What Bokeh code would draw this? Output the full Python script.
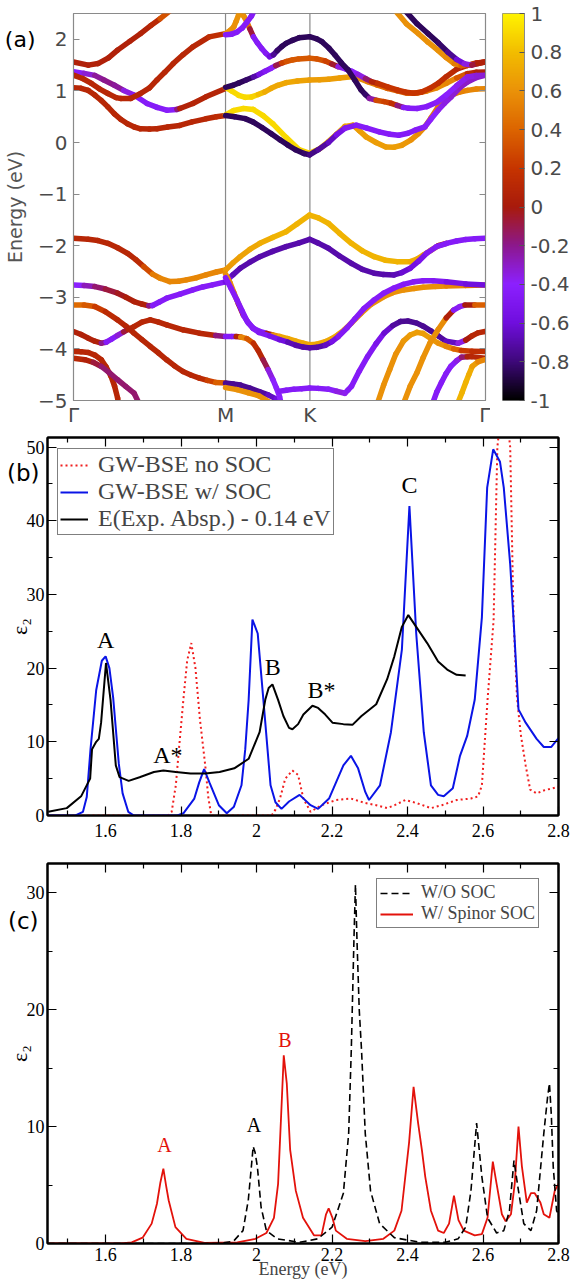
import numpy as np
from bokeh.plotting import figure
from bokeh.layouts import column, row
from bokeh.models import (ColumnDataSource, LinearColorMapper, FixedTicker, LinearAxis,
                          Span, Label, Legend, LegendItem, Range1d)
from bokeh.transform import linear_cmap
from bokeh.embed import file_html
from bokeh.resources import INLINE

# ---------------------------------------------------------------------------
# (a) spin-projected band structure along Γ–M–K–Γ  (path length ΓM = 1)
#     each band: (k, E [eV], <S_z>)
# ---------------------------------------------------------------------------
K_TICKS = [0.0, 1.0, 1.555, 2.709]
K_LABELS = ["Γ", "M", "K", "Γ"]
E_TICKS = [-5, -4, -3, -2, -1, 0, 1, 2]
SZ_TICKS = [1.0, 0.8, 0.6, 0.4, 0.2, 0.0, -0.2, -0.4, -0.6, -0.8, -1.0]
SZ_LABELS = ["1", "0.8", "0.6", "0.4", "0.2", "0", "-0.2", "-0.4", "-0.6", "-0.8", "-1"]

# conduction bands
cb_gm_1 = [(0.0, 1.56, .05), (0.097, 1.50, .05), (0.161, 1.53, .05), (0.23, 1.64, .05), (0.29, 1.79, .05),
           (0.37, 1.96, .05), (0.441, 2.11, .05), (0.51, 2.27, .08), (0.57, 2.40, .15), (0.634, 2.55, .5)]
cb_gm_2 = [(0.0, 1.37, -.45), (0.07, 1.34, -.4), (0.14, 1.30, -.25), (0.2, 1.21, -.2), (0.269, 1.11, -.2),
           (0.33, 1.01, -.25), (0.398, 0.92, -.45), (0.484, 0.756, -.45), (0.55, 0.68, -.45),
           (0.613, 0.627, -.45), (0.68, 0.64, -.4), (0.70, 0.66, .05), (0.785, 0.756, .08),
           (0.871, 0.885, .08), (1.0, 1.046, .08)]
cb_gm_3 = [(0.0, 1.305, .1), (0.06, 1.24, .1), (0.118, 1.144, .1), (0.17, 1.04, .1), (0.226, 0.95, .1),
           (0.28, 0.87, .1), (0.312, 0.853, .1), (0.376, 0.853, .1), (0.441, 0.95, .1), (0.50, 1.06, .1),
           (0.548, 1.208, .1), (0.60, 1.36, .1), (0.656, 1.53, .1), (0.72, 1.70, .1), (0.785, 1.853, .1),
           (0.892, 2.046, .1), (1.0, 2.11, .2)]
cb_gm_4 = [(0.0, 1.06, .1), (0.05, 1.05, .1), (0.097, 1.008, .1), (0.14, 0.92, .1), (0.183, 0.814, .1),
           (0.226, 0.69, .1), (0.269, 0.556, .1), (0.31, 0.45, .1), (0.355, 0.363, .1), (0.40, 0.30, .1),
           (0.441, 0.266, .1), (0.50, 0.26, .1), (0.548, 0.266, .1), (0.62, 0.30, .1), (0.699, 0.33, .1),
           (0.78, 0.40, .1), (0.871, 0.459, .1), (0.94, 0.50, .12), (1.0, 0.524, .15)]
cb_mk_1 = [(1.0, 0.534, .9), (1.054, 0.62, .9), (1.118, 0.66, .9), (1.183, 0.64, .9), (1.247, 0.52, .9),
           (1.312, 0.36, .9), (1.398, 0.10, .9), (1.484, -0.14, .9), (1.553, -0.21, .88), (1.62, -0.12, .8),
           (1.677, 0.018, .75), (1.73, 0.16, .7), (1.785, 0.31, .7), (1.839, 0.335, .65), (1.88, 0.23, .65),
           (1.925, 0.109, .65), (1.99, 0.0, .65), (2.054, -0.085, .65), (2.11, -0.09, .65),
           (2.161, -0.053, .65), (2.22, 0.05, .6), (2.269, 0.173, .6), (2.311, 0.302, .55), (2.35, 0.47, .5),
           (2.398, 0.69, .5), (2.44, 0.82, .5), (2.484, 0.915, .5), (2.54, 0.98, .5), (2.591, 1.01, .55),
           (2.65, 1.035, .55), (2.706, 1.044, .55)]
cb_mk_2 = [(1.0, 0.524, -.85), (1.06, 0.50, -.85), (1.129, 0.463, -.85), (1.18, 0.40, -.85), (1.24, 0.29, -.85),
           (1.301, 0.17, -.85), (1.36, 0.05, -.85), (1.41, -0.05, -.85), (1.46, -0.14, -.85),
           (1.516, -0.214, -.85), (1.553, -0.24, -.8), (1.61, -0.14, -.75), (1.677, 0.0, -.7),
           (1.73, 0.15, -.6), (1.785, 0.276, -.5), (1.86, 0.335, -.45), (1.93, 0.28, -.45),
           (2.011, 0.206, -.45), (2.08, 0.16, -.45), (2.14, 0.141, -.45), (2.2, 0.18, -.45),
           (2.247, 0.238, -.45), (2.311, 0.302, -.45), (2.35, 0.45, -.4), (2.398, 0.625, -.4),
           (2.44, 0.76, -.35), (2.484, 0.883, -.35), (2.54, 1.06, -.3), (2.591, 1.17, -.3),
           (2.65, 1.26, -.3), (2.706, 1.30, -.3)]
cb_mk_3 = [(1.0, 1.07, .9), (1.04, 1.0, .9), (1.086, 0.915, .9), (1.13, 0.875, .9), (1.172, 0.883, .9),
           (1.215, 0.93, .85), (1.258, 0.98, .75), (1.30, 1.05, .7), (1.344, 1.109, .7), (1.40, 1.16, .7),
           (1.473, 1.19, .7), (1.553, 1.211, .65), (1.62, 1.215, .65), (1.677, 1.224, .65), (1.75, 1.25, .65),
           (1.828, 1.276, .65), (1.88, 1.24, .6), (1.935, 1.179, .55), (2.0, 1.11, .45), (2.065, 1.05, .4),
           (2.13, 1.0, .35), (2.194, 0.954, .35), (2.26, 0.96, .4), (2.323, 0.999, .5), (2.39, 1.06, .55),
           (2.452, 1.147, .6), (2.52, 1.25, .5), (2.591, 1.334, .2), (2.65, 1.36, .05), (2.706, 1.366, .05)]
cb_mk_4 = [(1.0, 1.07, -.85), (1.05, 1.11, -.85), (1.086, 1.15, -.85), (1.135, 1.21, -.85), (1.183, 1.27, -.8),
           (1.22, 1.32, -.6), (1.26, 1.38, -.5), (1.30, 1.44, -.45), (1.33, 1.49, -.4), (1.37, 1.54, .2),
           (1.40, 1.57, .3), (1.44, 1.60, .35), (1.48, 1.62, .35), (1.553, 1.635, .35), (1.60, 1.62, .35),
           (1.656, 1.58, .3), (1.70, 1.52, .2), (1.74, 1.47, -.3), (1.785, 1.43, -.4), (1.83, 1.38, -.4),
           (1.871, 1.32, -.4), (1.92, 1.24, -.3), (1.96, 1.18, 0.0), (2.0, 1.147, .15), (2.065, 1.08, .2),
           (2.129, 1.018, .2), (2.18, 0.98, .2), (2.237, 0.954, .2), (2.29, 0.98, .2), (2.344, 1.05, .2),
           (2.40, 1.15, .15), (2.452, 1.276, .15), (2.52, 1.42, .1), (2.591, 1.495, .1), (2.65, 1.54, .05),
           (2.706, 1.56, .05)]
cb_mk_5 = [(1.097, 2.60, .6), (1.12, 2.45, .6), (1.14, 2.34, .6), (1.16, 2.2, .3), (1.183, 2.05, -.45),
           (1.21, 1.93, -.45), (1.237, 1.824, -.45), (1.265, 1.73, -.45), (1.29, 1.663, -.5),
           (1.315, 1.70, -.7), (1.34, 1.78, -.8), (1.37, 1.86, -.85), (1.398, 1.921, -.85), (1.44, 1.98, -.85),
           (1.484, 2.031, -.85), (1.553, 2.05, -.85), (1.6, 2.01, -.85), (1.634, 1.953, -.85),
           (1.68, 1.83, -.85), (1.72, 1.695, -.85), (1.76, 1.55, -.85), (1.806, 1.405, -.85),
           (1.85, 1.21, -.85), (1.892, 1.018, -.85), (1.92, 0.93, -.85), (1.946, 0.857, -.8),
           (1.99, 0.82, .3), (2.043, 0.792, .3), (2.09, 0.76, .2), (2.129, 0.72, .1), (2.17, 0.68, -.45),
           (2.204, 0.663, -.45), (2.26, 0.66, -.45), (2.323, 0.695, -.45), (2.39, 0.78, -.45),
           (2.452, 0.921, -.4), (2.52, 1.10, -.4), (2.591, 1.27, -.35), (2.65, 1.30, -.35), (2.706, 1.305, -.3)]
cb_mk_6 = [(1.0, 2.11, .6), (1.03, 2.17, .6), (1.054, 2.24, .6), (1.07, 2.35, .6), (1.086, 2.47, .6),
           (1.097, 2.56, .6)]
cb_mk_7 = [(1.0, 2.09, -.45), (1.04, 2.10, -.45), (1.075, 2.14, -.45), (1.11, 2.22, -.45), (1.14, 2.33, -.45),
           (1.17, 2.45, -.45), (1.19, 2.56, -.45)]
cb_kg_8 = [(2.118, 2.55, .6), (2.19, 2.30, .6), (2.269, 2.108, .6), (2.33, 1.95, .6), (2.398, 1.785, .6),
           (2.45, 1.65, .6), (2.505, 1.527, .55), (2.55, 1.49, .45), (2.591, 1.495, .3), (2.65, 1.53, .15),
           (2.706, 1.56, .1)]
cb_kg_9 = [(2.183, 2.55, -.85), (2.26, 2.30, -.85), (2.333, 2.108, -.85), (2.40, 1.93, -.85),
           (2.462, 1.753, -.8), (2.52, 1.61, -.7), (2.57, 1.527, -.5), (2.62, 1.50, -.2), (2.66, 1.53, .05),
           (2.706, 1.56, .05)]

# valence bands
vb_gm_1 = [(0.0, -1.857, .1), (0.097, -1.876, .1), (0.16, -1.90, .1), (0.226, -1.954, .1), (0.29, -2.04, .1),
           (0.355, -2.147, .1), (0.41, -2.27, .1), (0.462, -2.405, .15), (0.52, -2.55, .45),
           (0.570, -2.631, .55), (0.634, -2.696, .55), (0.69, -2.69, .55), (0.742, -2.663, .55),
           (0.81, -2.62, .55), (0.871, -2.567, .55), (0.94, -2.51, .55), (1.0, -2.47, .55)]
vb_mk_1 = [(1.0, -2.47, .6), (1.05, -2.33, .65), (1.097, -2.213, .65), (1.16, -2.07, .7), (1.226, -1.954, .7),
           (1.31, -1.84, .75), (1.398, -1.728, .75), (1.47, -1.58, .75), (1.553, -1.406, .75),
           (1.61, -1.46, .75), (1.677, -1.567, .75), (1.75, -1.76, .75), (1.828, -1.954, .75),
           (1.9, -2.1, .75), (1.978, -2.213, .75), (2.05, -2.28, .75), (2.129, -2.309, .75),
           (2.215, -2.309, .75), (2.26, -2.26, .7), (2.301, -2.18, .7), (2.35, -2.09, .6), (2.40, -2.0, .5),
           (2.452, -1.954, -.45), (2.52, -1.91, -.45), (2.58, -1.88, -.45), (2.64, -1.865, -.45),
           (2.706, -1.857, -.45)]
vb_gm_2 = [(0.0, -2.76, -.45), (0.07, -2.77, -.35), (0.14, -2.792, -.2), (0.21, -2.84, -.1), (0.29, -2.921, -.05),
           (0.345, -3.0, 0.0), (0.398, -3.082, .05), (0.45, -3.13, .05), (0.495, -3.166, .05),
           (0.52, -3.16, -.45), (0.565, -3.09, -.45), (0.613, -3.018, -.45), (0.70, -2.94, -.45),
           (0.785, -2.857, -.45), (0.85, -2.80, -.45), (0.914, -2.76, -.45), (1.0, -2.70, -.45)]
vb_mk_2 = [(1.0, -2.70, -.5), (1.05, -2.56, -.65), (1.097, -2.437, -.7), (1.16, -2.32, -.7), (1.226, -2.213, -.7),
           (1.31, -2.11, -.7), (1.398, -2.019, -.7), (1.48, -1.95, -.7), (1.553, -1.876, -.7),
           (1.61, -1.95, -.7), (1.677, -2.05, -.7), (1.75, -2.20, -.7), (1.828, -2.341, -.7),
           (1.9, -2.46, -.7), (1.978, -2.534, -.7), (2.04, -2.56, -.7), (2.108, -2.567, -.7),
           (2.16, -2.52, -.65), (2.215, -2.437, -.6), (2.27, -2.30, -.55), (2.323, -2.147, -.5),
           (2.387, -2.019, -.45), (2.452, -1.96, -.45)]
vb_gm_3 = [(0.0, -3.147, .45), (0.07, -3.15, .4), (0.14, -3.179, .3), (0.21, -3.28, .15), (0.29, -3.437, .1),
           (0.345, -3.56, .1), (0.398, -3.695, .1), (0.45, -3.82, .1), (0.505, -3.953, .1), (0.56, -4.08, .1),
           (0.613, -4.211, .1), (0.665, -4.33, .1), (0.72, -4.437, .1), (0.775, -4.51, .1),
           (0.828, -4.566, .1), (0.88, -4.61, .15), (0.935, -4.65, .35), (1.0, -4.662, .4)]
vb_mk_3 = [(1.0, -4.662, -.75), (1.05, -4.68, -.75), (1.097, -4.70, -.75), (1.16, -4.76, -.75),
           (1.226, -4.83, -.75), (1.28, -4.89, -.7), (1.333, -4.97, -.6), (1.35, -5.05, -.6)]
vb_mk_3b = [(1.0, -4.75, .6), (1.075, -4.79, .6), (1.15, -4.85, .6), (1.22, -4.91, .6), (1.30, -5.05, .6)]
vb_gm_4 = [(0.0, -3.663, .05), (0.05, -3.72, .05), (0.097, -3.792, .05), (0.14, -3.85, .05), (0.183, -3.889, .05),
           (0.215, -3.87, -.45), (0.25, -3.81, -.45), (0.29, -3.74, -.45), (0.33, -3.67, -.2),
           (0.36, -3.62, .05), (0.398, -3.57, .1), (0.45, -3.48, .1), (0.505, -3.437, .1),
           (0.56, -3.48, .1), (0.613, -3.534, .1), (0.72, -3.63, .1), (0.828, -3.695, .1),
           (0.935, -3.74, .1), (1.0, -3.76, -.45)]
vb_mk_4 = [(1.0, -3.76, -.45), (1.04, -3.76, -.45), (1.07, -3.76, -.45), (1.10, -3.77, .6), (1.14, -3.80, .5),
           (1.183, -3.889, .2), (1.215, -4.03, .1), (1.247, -4.211, .1), (1.28, -4.40, -.3),
           (1.312, -4.598, -.4), (1.335, -4.76, -.4), (1.355, -4.92, -.4), (1.365, -5.05, -.4)]
vb_mk_5 = [(1.0, -2.55, .6), (1.03, -2.72, .6), (1.054, -2.90, .6), (1.085, -3.13, .4), (1.118, -3.35, -.45),
           (1.15, -3.50, -.45), (1.183, -3.60, -.45), (1.225, -3.66, -.45), (1.27, -3.70, -.45),
           (1.31, -3.73, .5), (1.355, -3.76, .7), (1.41, -3.80, .7), (1.462, -3.85, .7), (1.51, -3.89, .7),
           (1.553, -3.92, .7), (1.60, -3.91, .7), (1.656, -3.86, .7), (1.70, -3.80, .7), (1.742, -3.72, .7),
           (1.785, -3.62, .65), (1.828, -3.50, .6), (1.892, -3.309, .6), (1.96, -3.13, .6),
           (2.043, -2.986, .6), (2.1, -2.91, .6), (2.172, -2.857, .6), (2.24, -2.83, .6), (2.301, -2.805, .6),
           (2.38, -2.79, .6), (2.452, -2.78, .6), (2.58, -2.77, .5), (2.706, -2.76, .4)]
vb_mk_6 = [(1.0, -2.62, -.45), (1.035, -2.82, -.45), (1.075, -3.05, -.45), (1.11, -3.27, -.45),
           (1.14, -3.45, -.45), (1.18, -3.60, -.45), (1.22, -3.68, -.45), (1.29, -3.75, -.5),
           (1.355, -3.82, -.55), (1.41, -3.87, -.65), (1.462, -3.93, -.7), (1.51, -3.965, -.7),
           (1.553, -3.98, -.7), (1.60, -3.97, -.7), (1.656, -3.93, -.7), (1.70, -3.86, -.6),
           (1.742, -3.76, -.5), (1.80, -3.59, -.45), (1.85, -3.42, -.45), (1.91, -3.22, -.45),
           (1.978, -3.05, -.45), (2.04, -2.92, -.45), (2.108, -2.82, -.45), (2.17, -2.75, -.45),
           (2.237, -2.70, -.45), (2.30, -2.68, -.45), (2.366, -2.68, -.45), (2.452, -2.70, -.5),
           (2.58, -2.74, -.6), (2.706, -2.76, -.6)]
vb_kg_8 = [(1.355, -4.82, -.45), (1.40, -4.80, -.45), (1.45, -4.78, -.45), (1.50, -4.77, -.45),
           (1.553, -4.76, -.45), (1.61, -4.765, -.45), (1.677, -4.78, -.45), (1.73, -4.82, -.4),
           (1.785, -4.86, -.3), (1.805, -4.80, -.45), (1.828, -4.727, -.45), (1.88, -4.43, -.45),
           (1.935, -4.147, -.45), (1.99, -3.90, -.5), (2.043, -3.695, -.55), (2.10, -3.55, -.7),
           (2.151, -3.469, -.75), (2.2, -3.46, -.75), (2.258, -3.50, -.75), (2.30, -3.56, -.75),
           (2.35, -3.65, -.75), (2.40, -3.75, -.75), (2.45, -3.85, -.7), (2.53, -3.89, -.6),
           (2.58, -3.83, -.1), (2.62, -3.75, .1), (2.66, -3.69, .1), (2.706, -3.663, .1)]
vb_kg_9 = [(2.0, -5.05, .6), (2.04, -4.7, .6), (2.08, -4.4, .6), (2.12, -4.1, .6), (2.17, -3.85, .6),
           (2.215, -3.73, .65), (2.26, -3.68, .65), (2.30, -3.70, .65), (2.35, -3.80, .65), (2.40, -3.89, .6),
           (2.45, -3.95, .6), (2.50, -4.00, .5), (2.55, -4.03, .3), (2.62, -4.045, .15), (2.706, -4.05, .15)]
vb_kg_10 = [(2.172, -5.05, .6), (2.215, -4.72, .6), (2.258, -4.469, .6), (2.30, -4.17, .6), (2.344, -3.889, .6),
            (2.40, -3.62, .6), (2.452, -3.40, .55), (2.50, -3.25, -.45), (2.54, -3.18, -.45),
            (2.575, -3.15, -.3), (2.64, -3.147, .3), (2.706, -3.147, .45)]
vb_kg_11 = [(2.363, -5.05, -.45), (2.39, -4.83, -.45), (2.42, -4.65, -.45), (2.45, -4.48, -.45),
            (2.481, -4.34, -.45), (2.52, -4.23, -.4), (2.552, -4.16, -.3), (2.59, -4.15, 0.0),
            (2.62, -4.15, .1), (2.706, -4.18, .1)]
vb_kg_12 = [(2.528, -5.05, .75), (2.555, -4.85, .75), (2.58, -4.65, .75), (2.60, -4.50, .75),
            (2.623, -4.34, .7), (2.66, -4.25, .6), (2.706, -4.21, .5)]
vb_gm_13 = [(0.0, -4.05, .1), (0.05, -4.055, .1), (0.097, -4.07, .1), (0.14, -4.12, .1), (0.183, -4.211, .1),
            (0.215, -4.35, .1), (0.247, -4.533, .1), (0.27, -4.72, .1), (0.29, -4.95, .1), (0.296, -5.05, .1)]
vb_gm_14 = [(0.0, -4.18, .1), (0.075, -4.21, .1), (0.13, -4.26, 0.0), (0.183, -4.34, -.15), (0.235, -4.46, -.15),
            (0.29, -4.598, -.15), (0.345, -4.73, -.15), (0.398, -4.856, -.15), (0.43, -5.05, -.15)]

BANDS = [cb_gm_1, cb_gm_2, cb_gm_3, cb_gm_4, cb_mk_1, cb_mk_2, cb_mk_3, cb_mk_4, cb_mk_5, cb_mk_6,
         cb_mk_7, cb_kg_8, cb_kg_9,
         vb_gm_1, vb_mk_1, vb_gm_2, vb_mk_2, vb_gm_3, vb_mk_3, vb_mk_3b, vb_gm_4, vb_mk_4, vb_mk_5,
         vb_mk_6, vb_kg_8, vb_kg_9, vb_kg_10, vb_kg_11, vb_kg_12, vb_gm_13, vb_gm_14]

# ---------------------------------------------------------------------------
# (b) ε2 spectra: GW-BSE without / with SOC and shifted experiment
# ---------------------------------------------------------------------------
NOSOC_B_X = [1.446, 1.765, 1.775, 1.786, 1.796, 1.806, 1.816, 1.827, 1.838, 1.85, 1.864, 1.872, 1.88, 2.04, 2.05,
             2.062, 2.076, 2.095, 2.11, 2.124, 2.143, 2.172, 2.211, 2.25, 2.288, 2.317, 2.346, 2.366, 2.394,
             2.423, 2.462, 2.491, 2.53, 2.568, 2.587, 2.597, 2.612, 2.628, 2.638, 2.655, 2.672, 2.681, 2.69,
             2.70, 2.713, 2.725, 2.742, 2.761, 2.8]
NOSOC_B_Y = [0, 0, 0.5, 4.1, 10, 15.7, 21, 23.4, 20, 13, 6.8, 2.5, 0, 0, 0.8, 2.3, 5.0, 6.1, 5.5, 2.3, 0.5, 1.4,
             2.1, 2.3, 1.7, 1.4, 1.0, 1.4, 2.1, 1.7, 1.0, 1.4, 2.1, 2.3, 2.6, 4.1, 15.7, 26.5, 50, 58, 50,
             26.5, 16, 11, 6.8, 3.5, 3.0, 3.4, 3.9]
SOC_B_X = [1.446, 1.52, 1.54, 1.55, 1.56, 1.575, 1.59, 1.60, 1.61, 1.62, 1.635, 1.645, 1.66, 1.675, 1.79, 1.806,
           1.835, 1.848, 1.861, 1.875, 1.90, 1.921, 1.94, 1.96, 1.97, 1.979, 1.989, 2.003, 2.018, 2.037, 2.05,
           2.066, 2.086, 2.114, 2.143, 2.163, 2.192, 2.23, 2.25, 2.269, 2.288, 2.298, 2.327, 2.356, 2.385,
           2.405, 2.423, 2.443, 2.462, 2.481, 2.496, 2.52, 2.539, 2.558, 2.578, 2.597, 2.611, 2.627, 2.645,
           2.655, 2.672, 2.681, 2.694, 2.713, 2.742, 2.761, 2.781, 2.8]
SOC_B_Y = [0, 0, 0.5, 2.5, 9, 17, 21, 21.6, 20, 16, 7, 3, 0.5, 0, 0, 0.3, 2.3, 4.5, 6.3, 4.5, 1.4, 0.3, 1.2, 4.1,
           9, 15.7, 26.6, 24.7, 15.7, 4.1, 1.8, 0.9, 1.9, 2.8, 1.4, 0.9, 2.3, 6.8, 8.1, 6.4, 3.2, 2.1, 4.1,
           11.3, 22.5, 42.0, 24.7, 11.3, 4.1, 2.8, 2.6, 3.7, 8.1, 10.8, 15.7, 26.9, 44.5, 49.7, 48, 44.5,
           34.1, 26.5, 14.4, 12.6, 10.4, 9.3, 9.3, 10.5]
EXP_X = [1.448, 1.497, 1.535, 1.559, 1.564, 1.575, 1.582, 1.588, 1.601, 1.613, 1.627, 1.637, 1.661, 1.69, 1.728,
         1.753, 1.786, 1.825, 1.864, 1.902, 1.941, 1.979, 2.008, 2.023, 2.032, 2.042, 2.057, 2.071, 2.086, 2.095,
         2.11, 2.124, 2.148, 2.163, 2.182, 2.201, 2.23, 2.254, 2.278, 2.317, 2.346, 2.365, 2.385, 2.402, 2.423,
         2.452, 2.481, 2.505, 2.53, 2.554]
EXP_Y = [0.5, 1.0, 2.6, 5.0, 9.0, 10.0, 10.4, 12.6, 20.7, 15.7, 6.8, 5.2, 4.7, 5.2, 5.9, 6.1, 5.9, 5.7, 5.7, 5.9,
         6.4, 7.7, 11.3, 15.7, 17.3, 17.8, 15.7, 13.5, 11.9, 11.7, 12.4, 13.7, 14.9, 14.6, 13.7, 12.6, 12.4,
         12.3, 13.5, 15.1, 18.5, 21.6, 25.6, 27.2, 25.6, 23.4, 20.9, 19.8, 19.1, 19.0]
PEAKS_B = [("A", 1.600, 22.0), ("A*", 1.765, 6.4), ("B", 2.043, 18.4), ("B*", 2.172, 15.3), ("C", 2.405, 43.1)]

# ---------------------------------------------------------------------------
# (c) ε2 without SOC and with spinor SOC
# ---------------------------------------------------------------------------
SPINOR_X = [1.446, 1.64, 1.669, 1.698, 1.722, 1.736, 1.745, 1.753, 1.76, 1.767, 1.785, 1.814, 1.862, 1.949,
            1.997, 2.026, 2.046, 2.057, 2.065, 2.072, 2.08, 2.089, 2.104, 2.123, 2.152, 2.172, 2.184, 2.191,
            2.201, 2.21, 2.239, 2.288, 2.336, 2.365, 2.384, 2.404, 2.416, 2.428, 2.438, 2.447, 2.462, 2.481,
            2.496, 2.51, 2.523, 2.535, 2.549, 2.578, 2.597, 2.612, 2.626, 2.636, 2.65, 2.66, 2.674, 2.684,
            2.694, 2.703, 2.716, 2.727, 2.737, 2.752, 2.761, 2.776, 2.79, 2.8]
SPINOR_Y = [0, 0, 0.1, 0.5, 1.7, 3.4, 5.2, 6.4, 5.0, 3.7, 1.4, 0.4, 0.05, 0.1, 0.4, 0.9, 2.2, 5.1, 10.9, 16.1,
            13.7, 8.0, 4.5, 2.2, 0.7, 0.7, 2.5, 3.0, 2.2, 1.1, 0.4, 0.2, 0.4, 1.1, 2.8, 8.6, 13.4, 10.3, 8.0,
            5.7, 2.8, 1.1, 0.9, 1.7, 4.1, 2.0, 1.1, 0.7, 0.8, 2.2, 7.0, 5.1, 2.5, 1.9, 2.5, 5.1, 10.0, 6.6,
            3.5, 4.3, 4.3, 3.5, 2.5, 2.2, 4.5, 5.1]
NOSOC_C_X = [1.446, 1.90, 1.939, 1.964, 1.978, 1.986, 1.991, 1.996, 2.002, 2.012, 2.026, 2.055, 2.114, 2.162, 2.2,
             2.23, 2.244, 2.251, 2.258, 2.262, 2.266, 2.272, 2.278, 2.288, 2.302, 2.326, 2.365, 2.433, 2.50,
             2.534, 2.554, 2.568, 2.577, 2.583, 2.59, 2.597, 2.612, 2.636, 2.655, 2.67, 2.682, 2.694, 2.708,
             2.727, 2.742, 2.761, 2.771, 2.776, 2.781, 2.786, 2.795, 2.8]
NOSOC_C_Y = [0, 0, 0.2, 1.1, 3.7, 6.5, 8.3, 7.8, 6.6, 3.1, 1.1, 0.4, 0.1, 0.4, 1.4, 4.3, 9.4, 16.6, 26, 30.7, 26,
             20, 16.6, 9.4, 4.5, 1.7, 0.5, 0.1, 0.1, 0.4, 1.4, 4.5, 8, 10.3, 8, 5.7, 2.2, 0.9, 1.1, 2.8, 7.1,
             4.5, 1.7, 1.1, 2.8, 9.4, 12.5, 13.7, 11, 6.6, 2.8, 2.5]
PEAKS_C = [("A", 1.756, 7.5, "#e3120b"), ("A", 1.993, 9.2, "black"), ("B", 2.075, 16.5, "#e3120b")]

X_TICKS = [1.6, 1.8, 2.0, 2.2, 2.4, 2.6, 2.8]
X_TICK_LABELS = ["1.6", "1.8", "2", "2.2", "2.4", "2.6", "2.8"]
X_MINOR = [1.5, 1.7, 1.9, 2.1, 2.3, 2.5, 2.7]

# ---------------------------------------------------------------------------
# colour scale for <S_z>
# ---------------------------------------------------------------------------
SZ_STOPS = [-1.0, -0.8, -0.6, -0.4, -0.2, 0.0, 0.2, 0.4, 0.6, 0.8, 1.0]
SZ_RGB = [(0, 0, 0), (62, 8, 122), (112, 14, 222), (140, 32, 255), (140, 24, 140), (168, 26, 12),
          (198, 52, 0), (220, 100, 0), (234, 145, 8), (242, 188, 0), (255, 242, 0)]


def build_palette(stops, rgb, n=256):
    t = np.linspace(-1, 1, n)
    arr = np.array(rgb, dtype=float)
    chans = [np.interp(t, stops, arr[:, i]) for i in range(3)]
    return ["#%02x%02x%02x" % (int(round(r)), int(round(g)), int(round(b))) for r, g, b in zip(*chans)]


PALETTE = build_palette(SZ_STOPS, SZ_RGB)
SANS = "DejaVu Sans"
SERIF = "Liberation Serif"
GREY = "#4a4a4a"


def band_source(bands):
    xs, ys, sz = [], [], []
    for band in bands:
        for (k0, e0, s0), (k1, e1, s1) in zip(band[:-1], band[1:]):
            xs.append([k0, k1])
            ys.append([e0, e1])
            sz.append(0.5 * (s0 + s1))
    return ColumnDataSource(dict(xs=xs, ys=ys, sz=sz))


def mirror_axis(ticker):
    """Tick marks only (no labels) for the top / right frame edges."""
    ax = LinearAxis(ticker=ticker)
    ax.major_label_text_color = None
    ax.major_label_text_font_size = "1px"
    ax.major_label_standoff = 0
    return ax


def label_axis(tick, text, font_size, standoff, axis_label, label_font, label_size, label_standoff,
               label_color="black"):
    """Outer left axis that carries the panel tag and the axis title."""
    ax = LinearAxis(ticker=FixedTicker(ticks=[tick]))
    ax.major_label_overrides = {tick: text}
    ax.major_label_text_font = SANS
    ax.major_label_text_font_size = font_size
    ax.major_label_text_color = "black"
    ax.major_label_standoff = standoff
    ax.major_tick_in = 0
    ax.major_tick_out = 0
    ax.minor_tick_in = 0
    ax.minor_tick_out = 0
    ax.axis_line_color = None
    ax.axis_label = axis_label
    ax.axis_label_text_font = label_font
    ax.axis_label_text_font_size = label_size
    ax.axis_label_text_font_style = "normal"
    ax.axis_label_text_color = label_color
    ax.axis_label_standoff = label_standoff
    return ax


# ---------------- panel (a) ----------------
pa = figure(width=490, height=430, x_range=Range1d(0, 2.71), y_range=Range1d(-5, 2.5),
            output_backend="svg", toolbar_location=None,
            min_border_left=65, min_border_right=5, min_border_top=13, min_border_bottom=30)
pa.grid.visible = False
pa.outline_line_color = "#8a8a8a"
pa.outline_line_width = 1.2
for loc in K_TICKS[1:3]:
    pa.add_layout(Span(location=loc, dimension="height", line_color="#8a8a8a", line_width=1.2,
                       level="underlay"))
pa.multi_line(xs="xs", ys="ys", source=band_source(BANDS),
              line_color=linear_cmap("sz", PALETTE, -1, 1), line_width=5.5, line_cap="round")

pa.add_layout(mirror_axis(FixedTicker(ticks=E_TICKS)), "right")
for ax in pa.yaxis:
    ax.ticker = FixedTicker(ticks=E_TICKS)
    ax.major_tick_in = 6
    ax.major_tick_out = 0
    ax.minor_tick_in = 0
    ax.minor_tick_out = 0
    ax.major_tick_line_color = "#8a8a8a"
    ax.axis_line_color = "#8a8a8a"
pa.left[0].major_label_text_font = SANS
pa.left[0].major_label_text_font_size = "20px"
pa.left[0].major_label_text_color = GREY
pa.left[0].major_label_standoff = 6
pa.add_layout(label_axis(2.0, "(a)", "22px", 0, "Energy (eV)", SANS, "19px", -24, "#555555"), "left")

pa.xaxis.ticker = FixedTicker(ticks=K_TICKS)
pa.xaxis.major_label_overrides = dict(zip(K_TICKS, K_LABELS))
pa.xaxis.major_tick_in = 0
pa.xaxis.major_tick_out = 0
pa.xaxis.minor_tick_in = 0
pa.xaxis.minor_tick_out = 0
pa.xaxis.axis_line_color = "#8a8a8a"
pa.xaxis.major_label_text_font = SANS
pa.xaxis.major_label_text_font_size = "20px"
pa.xaxis.major_label_text_color = GREY
pa.xaxis.major_label_standoff = 2

# colour bar
pcb = figure(width=83, height=430, x_range=Range1d(0, 1), y_range=Range1d(-1, 1),
             x_axis_location=None, y_axis_location="right", output_backend="svg", toolbar_location=None,
             min_border_left=12, min_border_right=49, min_border_top=13, min_border_bottom=30)
pcb.grid.visible = False
pcb.outline_line_color = "#8a8a8a"
pcb.image(image=[np.linspace(-1, 1, 256).reshape(256, 1)], x=0, y=-1, dw=1, dh=2,
          color_mapper=LinearColorMapper(palette=PALETTE, low=-1, high=1))
pcb.yaxis.ticker = FixedTicker(ticks=SZ_TICKS)
pcb.yaxis.major_label_overrides = dict(zip(SZ_TICKS, SZ_LABELS))
pcb.yaxis.major_tick_in = 5
pcb.yaxis.major_tick_out = 0
pcb.yaxis.minor_tick_in = 0
pcb.yaxis.minor_tick_out = 0
pcb.yaxis.major_tick_line_color = "#555555"
pcb.yaxis.axis_line_color = "#8a8a8a"
pcb.yaxis.major_label_text_font = SANS
pcb.yaxis.major_label_text_font_size = "20px"
pcb.yaxis.major_label_text_color = GREY
pcb.yaxis.major_label_standoff = 6


def style_spectrum(p, y_ticks, y_minor, x_label_standoff):
    p.grid.visible = False
    p.outline_line_color = "black"
    p.outline_line_width = 2
    xt = FixedTicker(ticks=X_TICKS, minor_ticks=X_MINOR)
    yt = FixedTicker(ticks=y_ticks, minor_ticks=y_minor)
    p.add_layout(mirror_axis(xt), "above")
    p.add_layout(mirror_axis(yt), "right")
    p.below[0].ticker = xt
    p.below[0].major_label_overrides = dict(zip(X_TICKS, X_TICK_LABELS))
    p.left[0].ticker = yt
    for ax in (p.below[0], p.left[0], p.above[0], p.right[0]):
        ax.axis_line_width = 2
        ax.major_tick_in = 9
        ax.major_tick_out = 0
        ax.minor_tick_in = 5
        ax.minor_tick_out = 0
        ax.major_tick_line_width = 1.2
        ax.minor_tick_line_width = 1.2
    for ax in (p.below[0], p.left[0]):
        ax.major_label_text_font = SERIF
        ax.major_label_text_font_size = "18px"
        ax.major_label_text_color = "black"
        ax.major_label_standoff = 3
    p.below[0].major_label_standoff = x_label_standoff


# ---------------- panel (b) ----------------
pb = figure(width=573, height=430, x_range=Range1d(1.446, 2.8), y_range=Range1d(0, 51.3),
            output_backend="svg", toolbar_location=None,
            min_border_left=47, min_border_right=15, min_border_top=7, min_border_bottom=45)
style_spectrum(pb, [0, 10, 20, 30, 40, 50], [5, 15, 25, 35, 45], 8)
pb.add_layout(label_axis(46.5, "(b)", "23px", -16, "ε₂", SERIF, "22px", -28), "left")
r_nosoc = pb.line(NOSOC_B_X, NOSOC_B_Y, line_color="#f01e1e", line_width=2, line_dash="2 3")
r_soc = pb.line(SOC_B_X, SOC_B_Y, line_color="#0a14e6", line_width=2)
r_exp = pb.line(EXP_X, EXP_Y, line_color="black", line_width=2)
leg_b = Legend(items=[LegendItem(label="GW-BSE no SOC", renderers=[r_nosoc]),
                      LegendItem(label="GW-BSE w/ SOC", renderers=[r_soc]),
                      LegendItem(label="E(Exp. Absp.) - 0.14 eV", renderers=[r_exp])],
               location=(10, 280), label_text_font=SERIF, label_text_font_size="24px",
               label_text_line_height=0.95, label_height=24, glyph_height=20, glyph_width=28,
               label_standoff=10, spacing=0, padding=2, border_line_color="black", border_line_width=1.5,
               background_fill_alpha=1.0)
pb.add_layout(leg_b)
for txt, xx, yy in PEAKS_B:
    pb.add_layout(Label(x=xx, y=yy, text=txt, text_font=SERIF, text_font_size="24px",
                        text_align="center", text_baseline="bottom", text_color="black"))

# ---------------- panel (c) ----------------
pc = figure(width=573, height=425, x_range=Range1d(1.446, 2.8), y_range=Range1d(0, 32.5),
            output_backend="svg", toolbar_location=None,
            min_border_left=47, min_border_right=15, min_border_top=3, min_border_bottom=42)
style_spectrum(pc, [0, 10, 20, 30], [5, 15, 25], 4)
pc.add_layout(label_axis(27.6, "(c)", "23px", -15, "ε₂", SERIF, "22px", -27), "left")
pc.below[0].axis_label = "Energy (eV)"
pc.below[0].axis_label_text_font = SERIF
pc.below[0].axis_label_text_font_size = "18px"
pc.below[0].axis_label_text_font_style = "normal"
pc.below[0].axis_label_standoff = -5
r_spinor = pc.line(SPINOR_X, SPINOR_Y, line_color="#e3120b", line_width=1.8)
r_wo = pc.line(NOSOC_C_X, NOSOC_C_Y, line_color="black", line_width=1.6, line_dash="7 4")
leg_c = Legend(items=[LegendItem(label="W/O SOC", renderers=[r_wo]),
                      LegendItem(label="W/ Spinor SOC", renderers=[r_spinor])],
               location=(329, 315), label_text_font=SERIF, label_text_font_size="18px",
               label_text_line_height=1.0, label_height=19, glyph_height=18, glyph_width=33,
               label_standoff=8, spacing=0, padding=3, border_line_color="black", border_line_width=1.5,
               background_fill_alpha=1.0)
pc.add_layout(leg_c)
for txt, xx, yy, col in PEAKS_C:
    pc.add_layout(Label(x=xx, y=yy, text=txt, text_font=SERIF, text_font_size="20px",
                        text_align="center", text_baseline="bottom", text_color=col))

layout = column(row(pa, pcb), pb, pc)
open("out.html", "w").write(file_html(layout, INLINE))
